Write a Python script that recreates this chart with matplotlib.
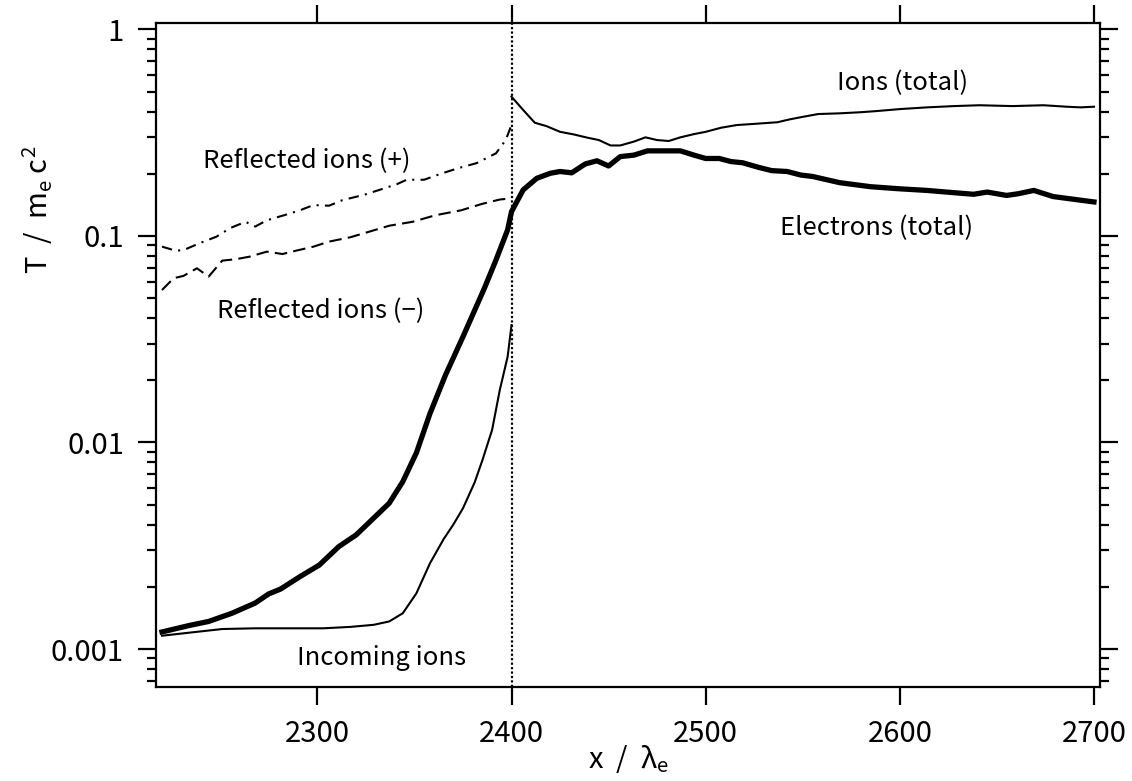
import numpy as np
import matplotlib
matplotlib.use("Agg")
import matplotlib.pyplot as plt
from matplotlib.ticker import FixedLocator, LogLocator, NullFormatter

plt.rcParams['font.family'] = ['Noto Sans CJK JP', 'DejaVu Sans']
plt.rcParams['mathtext.fontset'] = 'custom'
plt.rcParams['mathtext.rm'] = 'Noto Sans CJK JP'
plt.rcParams['mathtext.it'] = 'Noto Sans CJK JP'
plt.rcParams['mathtext.fallback'] = 'stixsans'

# electrons (total)
ele_x = [2220, 2234, 2244, 2256, 2268, 2275, 2281, 2291, 2301, 2311, 2320, 2337, 2344, 2351,
         2358, 2366, 2375, 2386, 2392, 2398, 2400, 2406, 2413, 2420, 2425, 2431, 2438, 2444, 2450,
         2456, 2463, 2470, 2487, 2494, 2500, 2507, 2513, 2519, 2527, 2534, 2542, 2549, 2555,
         2569, 2585, 2600, 2614, 2624, 2638, 2645, 2655, 2661, 2669, 2679, 2700]
ele_T = [0.00121, 0.0013, 0.00136, 0.00149, 0.00167, 0.00185, 0.00195, 0.00224, 0.00255,
         0.00313, 0.00357, 0.00508, 0.00646, 0.0089, 0.0138, 0.0212, 0.0325, 0.0557, 0.0764, 0.107,
         0.131, 0.167, 0.19, 0.201, 0.205, 0.202, 0.223, 0.231, 0.218, 0.242, 0.246, 0.258,
         0.258, 0.246, 0.237, 0.237, 0.229, 0.226, 0.215, 0.207, 0.205, 0.197, 0.194, 0.181,
         0.173, 0.169, 0.166, 0.163, 0.159, 0.163, 0.157, 0.160, 0.166, 0.155, 0.146]

# ions (total), downstream of 2400
ion_x = [2400, 2406, 2412, 2418, 2425, 2432, 2439, 2445, 2451, 2456, 2463, 2469, 2475, 2481,
         2487, 2494, 2500, 2508, 2516, 2524, 2537, 2543, 2550, 2558, 2569, 2580, 2588, 2600,
         2614, 2628, 2641, 2658, 2674, 2686, 2693, 2700]
ion_T = [0.472, 0.407, 0.353, 0.340, 0.319, 0.310, 0.299, 0.291, 0.274, 0.274, 0.286, 0.300,
         0.291, 0.288, 0.300, 0.311, 0.319, 0.334, 0.344, 0.348, 0.355, 0.366, 0.377, 0.389,
         0.392, 0.397, 0.402, 0.411, 0.419, 0.425, 0.429, 0.425, 0.429, 0.422, 0.419, 0.422]

# incoming ions
inc_x = [2220, 2234, 2251, 2268, 2286, 2303, 2317, 2329, 2337, 2344, 2351, 2358, 2365, 2370,
         2375, 2381, 2385, 2390, 2394, 2398, 2400]
inc_T = [0.00116, 0.0012, 0.00125, 0.00126, 0.00126, 0.00126, 0.00128, 0.00131, 0.00136,
         0.00149, 0.00186, 0.0026, 0.0034, 0.0040, 0.0048, 0.0064, 0.0082, 0.0115, 0.018,
         0.026, 0.037]

# reflected ions (+)
rp_x = [2220, 2227, 2231, 2240, 2248, 2255, 2263, 2268, 2274, 2283, 2291, 2298, 2306, 2313,
        2324, 2332, 2341, 2346, 2355, 2363, 2372, 2382, 2392, 2397, 2400]
rp_T = [0.0887, 0.0848, 0.0853, 0.0927, 0.0991, 0.109, 0.117, 0.111, 0.119, 0.126, 0.133,
        0.141, 0.140, 0.149, 0.158, 0.167, 0.178, 0.187, 0.187, 0.199, 0.212, 0.225, 0.251,
        0.291, 0.344]

# reflected ions (-)
rm_x = [2220, 2226, 2231, 2238, 2244, 2251, 2258, 2265, 2274, 2282, 2289, 2298, 2306, 2317,
        2327, 2337, 2349, 2361, 2374, 2385, 2394, 2400]
rm_T = [0.0547, 0.0624, 0.064, 0.0697, 0.0635, 0.0759, 0.0771, 0.0793, 0.0839, 0.0817,
        0.0848, 0.0887, 0.0938, 0.0985, 0.105, 0.112, 0.117, 0.126, 0.133, 0.143, 0.150, 0.152]

x_shock = 2400
xticks = [2300, 2400, 2500, 2600, 2700]
yticks = [0.001, 0.01, 0.1, 1]
ytick_labels = ['0.001', '0.01', '0.1', '1']

fig = plt.figure(figsize=(11.32, 7.81), dpi=100)
ax = fig.add_axes([156/1132, 94/781, 944/1132, 664/781])

lw_thin = 1.5
ax.plot(ele_x, ele_T, 'k-', lw=3.8, solid_joinstyle='round')
ax.plot(ion_x, ion_T, 'k-', lw=lw_thin)
ax.plot(inc_x, inc_T, 'k-', lw=lw_thin)
ax.plot(rp_x, rp_T, 'k', lw=lw_thin, linestyle=(0, (5, 3, 1, 3)))
ax.plot(rm_x, rm_T, 'k', lw=lw_thin, linestyle=(0, (6, 3)))
ax.axvline(x_shock, color='k', lw=1.6, linestyle=(0, (1, 1)))

ax.set_yscale('log')
ax.set_xlim(2216.9, 2703.1)
ax.set_ylim(6.55e-4, 1.073)

ax.xaxis.set_major_locator(FixedLocator(xticks))
ax.set_xticklabels([str(t) for t in xticks])
ax.yaxis.set_major_locator(FixedLocator(yticks))
ax.set_yticklabels(ytick_labels)
ax.yaxis.set_minor_locator(LogLocator(base=10, subs=np.arange(2, 10), numticks=20))
ax.yaxis.set_minor_formatter(NullFormatter())

for s in ax.spines.values():
    s.set_linewidth(1.6)
ax.tick_params(which='both', direction='out', top=True, right=True, width=1.6, labelsize=21)
ax.tick_params(which='major', length=13, pad=10)
ax.tick_params(which='minor', length=6.7)
ax.tick_params(axis='x', which='minor', bottom=False, top=False)

fs = 18.5
ax.text(2294.7, 0.2305, 'Reflected ions (+)', fontsize=fs, ha='center', va='center')
ax.text(2301.9, 0.0433, 'Reflected ions (\u2212)', fontsize=fs, ha='center', va='center')
ax.text(2333.3, 0.000906, 'Incoming ions', fontsize=fs, ha='center', va='center')
ax.text(2601.6, 0.550, 'Ions (total)', fontsize=fs, ha='center', va='center')
ax.text(2588.2, 0.109, 'Electrons (total)', fontsize=fs, ha='center', va='center')

fig.text(628/1132, 1 - 768/781, r'x  /  $\lambda_\mathrm{e}$', fontsize=21, ha='center', va='baseline')
fig.text(38/1132, 1 - 210/781, r'T  /  m$_\mathrm{e}$ c$^2$', fontsize=21, ha='center', va='center', rotation=90)

fig.savefig('out.png', dpi=100)
